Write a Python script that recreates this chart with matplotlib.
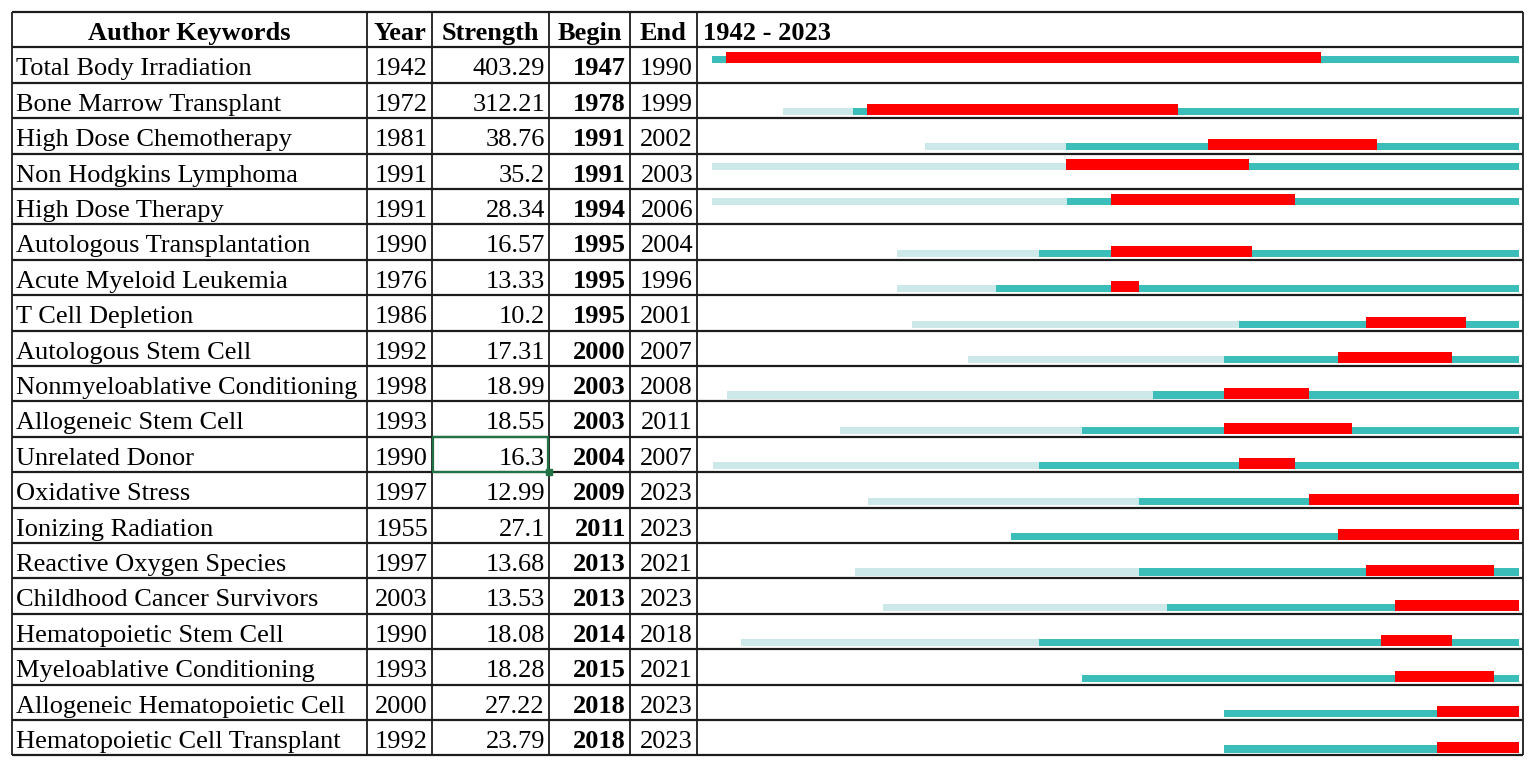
import matplotlib
matplotlib.use("Agg")
import matplotlib.pyplot as plt
from matplotlib.patches import Rectangle

# ---------------- data ----------------
keywords = [
    "Total Body Irradiation", "Bone Marrow Transplant", "High Dose Chemotherapy",
    "Non Hodgkins Lymphoma", "High Dose Therapy", "Autologous Transplantation",
    "Acute Myeloid Leukemia", "T Cell Depletion", "Autologous Stem Cell",
    "Nonmyeloablative Conditioning", "Allogeneic Stem Cell", "Unrelated Donor",
    "Oxidative Stress", "Ionizing Radiation", "Reactive Oxygen Species",
    "Childhood Cancer Survivors", "Hematopoietic Stem Cell", "Myeloablative Conditioning",
    "Allogeneic Hematopoietic Cell", "Hematopoietic Cell Transplant",
]
years = [1942, 1972, 1981, 1991, 1991, 1990, 1976, 1986, 1992, 1998,
         1993, 1990, 1997, 1955, 1997, 2003, 1990, 1993, 2000, 1992]
strengths = ["403.29", "312.21", "38.76", "35.2", "28.34", "16.57", "13.33", "10.2",
             "17.31", "18.99", "18.55", "16.3", "12.99", "27.1", "13.68", "13.53",
             "18.08", "18.28", "27.22", "23.79"]
begins = [1947, 1978, 1991, 1991, 1994, 1995, 1995, 1995, 2000, 2003,
          2003, 2004, 2009, 2011, 2013, 2013, 2014, 2015, 2018, 2018]
ends = [1990, 1999, 2002, 2003, 2006, 2004, 1996, 2001, 2007, 2008,
        2011, 2007, 2023, 2023, 2021, 2023, 2018, 2021, 2023, 2023]
headers = ["Author Keywords", "Year", "Strength", "Begin", "End", "1942 - 2023"]
year_first, year_last = 1942, 2023

# timeline segments as drawn in the picture (timeline units)
light_start = [1942.0, 1949.2, 1963.6, 1942.0, 1942.0, 1960.8, 1960.8, 1962.3, 1968.0, 1943.5,
               1955.0, 1942.1, 1957.9, 1972.4, 1956.5, 1959.4, 1944.9, 1979.6, 1994.0, 1994.0]
teal_start = [1942.0, 1956.3, 1978.0, 1978.0, 1978.1, 1975.2, 1970.9, 1995.5, 1994.0, 1986.8,
              1979.6, 1975.2, 1985.4, 1972.4, 1985.4, 1988.2, 1975.2, 1979.6, 1994.0, 1994.0]
red_start = [1943.4, 1957.7, 1992.4, 1978.0, 1982.5, 1982.5, 1982.5, 2008.5, 2005.6, 1994.0,
             1994.0, 1995.5, 2002.7, 2005.6, 2008.5, 2011.4, 2010.0, 2011.4, 2015.7, 2015.7]
red_end = [2003.9, 1989.4, 2009.6, 1996.6, 2001.2, 1996.9, 1985.4, 2018.6, 2017.2, 2002.7,
           2007.0, 2001.2, 2024.0, 2024.0, 2021.5, 2024.0, 2017.2, 2021.5, 2024.0, 2024.0]

# ---------------- layout / style ----------------
W, H = 1535, 768
col_x = [12, 367, 432, 549, 630, 697, 1523]
top, row_h = 12, 35.4
n_rows = len(keywords) + 1
bar_left_px, bar_right_px = 712, 1519
bar_bottom_frac = [0.45, 0.91, 0.90, 0.46, 0.45] + [0.92] * 15
red_h, teal_h = 0.31, 0.20
C_RED, C_TEAL, C_LIGHT = "#FF0000", "#3BBDBA", "#CDE8E9"
LINE = "#1c1c1c"
FONT = "Liberation Serif"
FS = 19

fig = plt.figure(figsize=(W / 100, H / 100), dpi=100)
ax = fig.add_axes([0, 0, 1, 1])
ax.set_xlim(0, W)
ax.set_ylim(H, 0)
ax.axis("off")

bottom_y = top + n_rows * row_h
# grid lines
for r in range(n_rows + 1):
    ax.hlines(top + r * row_h, col_x[0], col_x[-1], color=LINE, lw=1.6)
for cx in col_x:
    ax.vlines(cx, top, bottom_y, color=LINE, lw=1.3)

# header
base = 28
hy = top + base
ax.text((col_x[0] + col_x[1]) / 2, hy, headers[0], ha="center", va="baseline",
        family=FONT, fontsize=FS, fontweight="bold")
for j in range(1, 5):
    ax.text((col_x[j] + col_x[j + 1]) / 2, hy, headers[j], ha="center", va="baseline",
            family=FONT, fontsize=FS, fontweight="bold")
ax.text(col_x[5] + 6, hy, headers[5], ha="left", va="baseline",
        family=FONT, fontsize=FS, fontweight="bold")

for i in range(len(keywords)):
    y = top + (i + 1) * row_h + base
    ax.text(col_x[0] + 4, y, keywords[i], ha="left", va="baseline", family=FONT, fontsize=FS)
    ax.text(col_x[2] - 4, y, str(years[i]), ha="right", va="baseline", family=FONT, fontsize=FS)
    ax.text(col_x[3] - 4, y, strengths[i], ha="right", va="baseline", family=FONT, fontsize=FS)
    ax.text(col_x[4] - 4, y, str(begins[i]), ha="right", va="baseline", family=FONT,
            fontsize=FS, fontweight="bold")
    ax.text(col_x[5] - 4, y, str(ends[i]), ha="right", va="baseline", family=FONT, fontsize=FS)

# Excel-like selected cell (Unrelated Donor / Strength)
sel = keywords.index("Unrelated Donor") + 1
sy0 = top + sel * row_h
ax.add_patch(Rectangle((col_x[2] + 1, sy0 + 0.5), col_x[3] - col_x[2] - 2, row_h - 1,
                       fill=False, ec="#217346", lw=1.6, zorder=5))
ax.add_patch(Rectangle((col_x[3] - 3, sy0 + row_h - 3), 6, 6, color="#217346", zorder=6))

# ---------------- burst bars ----------------
bax = fig.add_axes([bar_left_px / W, (H - bottom_y) / H, (bar_right_px - bar_left_px) / W,
                    (bottom_y - top - row_h) / H])
bax.set_xlim(year_first, year_last + 1)
bax.set_ylim(len(keywords), 0)
bax.axis("off")
bax.patch.set_alpha(0)
for i in range(len(keywords)):
    b = i + bar_bottom_frac[i]
    if teal_start[i] > light_start[i]:
        bax.barh(b - teal_h, teal_start[i] - light_start[i], left=light_start[i], height=teal_h,
                 align="edge", color=C_LIGHT, lw=0)
    bax.barh(b - teal_h, year_last + 1 - teal_start[i], left=teal_start[i], height=teal_h,
             align="edge", color=C_TEAL, lw=0)
    bax.barh(b - red_h, red_end[i] - red_start[i], left=red_start[i], height=red_h,
             align="edge", color=C_RED, lw=0)

fig.savefig("out.png", dpi=100, facecolor="white")
